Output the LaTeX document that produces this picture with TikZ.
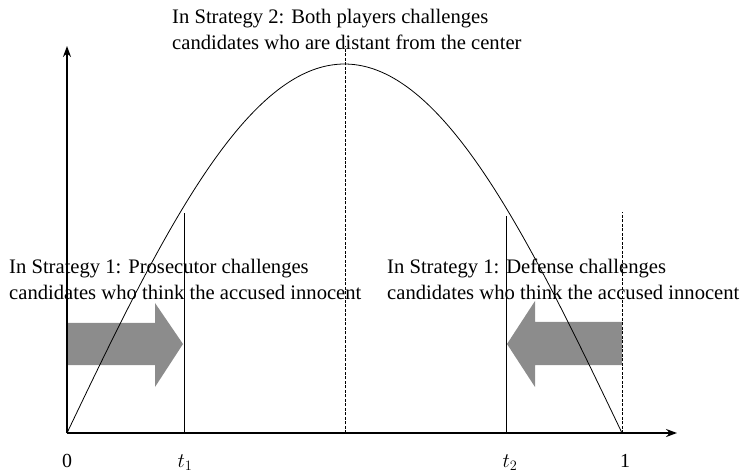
\documentclass[tikz,border=0pt]{standalone}
\usepackage{fontspec}
\setmainfont{Liberation Serif}
\usetikzlibrary{positioning,arrows.meta}

\tikzstyle{axis} = [line width=2.1pt,-{Stealth[length=11pt,width=8pt]}]
\tikzstyle{curve} = [line width=0.8pt]
\tikzstyle{cut} = [line width=0.8pt]
\tikzstyle{guide} = [line width=0.8pt, dash pattern=on 3pt off 1.5pt]
\tikzstyle{push} = [fill=black!45, draw=none]
\tikzstyle{label} = [inner sep=0pt, align=left, font=\fontsize{20.7}{26}\selectfont]
\tikzstyle{tick} = [inner sep=0pt, font=\fontsize{20}{22}\selectfont]

\begin{document}
\begin{tikzpicture}[x=1bp, y=-1bp]
  \useasboundingbox (0,0) rectangle (740,473);

  \coordinate (O) at (67,433);
  \coordinate (Y) at (67,46);
  \coordinate (X) at (677,433);
  \coordinate (T1) at (184,433);
  \coordinate (T2) at (506,433);
  \coordinate (C) at (345,433);
  \coordinate (One) at (622,433);
  \coordinate (T1 top) at (184,213);
  \coordinate (T2 top) at (506,216);
  \coordinate (C top) at (345,46);
  \coordinate (One top) at (622,212);

  % arrows pushing toward the cut points
  \fill [push] (67,323) -- (155,323) -- (155,303) -- (183,344) -- (155,387) -- (155,365) -- (67,365) -- cycle;
  \fill [push] (622,322) -- (535,322) -- (535,301) -- (507,344) -- (535,387) -- (535,365) -- (622,365) -- cycle;

  \draw [cut] (T1) -- (T1 top);
  \draw [cut] (T2) -- (T2 top);
  \draw [guide] (C) -- (C top);
  \draw [guide] (One) -- (One top);

  \draw [curve] plot [domain=0:1, samples=80, smooth] ({67+555*\x}, {433-369*sin(180*\x)});

  \draw [axis] (O) -- (Y);
  \draw [axis] (O) -- (X);

  \node (Zero) [tick] at (67,461) {0};
  \node (T1 label) [tick] at (185,463) {$t_1$};
  \node (T2 label) [tick] at (510,463) {$t_2$};
  \node (One label) [tick] at (625,461) {1};

  \node (Strategy Two) [label, anchor=north west] at (172,9) {In Strategy 2: Both players challenges\\candidates who are distant from the center};
  \node (Prosecutor) [label, anchor=north west] at (9,259) {In Strategy 1: Prosecutor challenges\\candidates who think the accused innocent};
  \node (Defense) [label, anchor=north west] at (387,259) {In Strategy 1: Defense challenges\\candidates who think the accused innocent};
\end{tikzpicture}
\end{document}
